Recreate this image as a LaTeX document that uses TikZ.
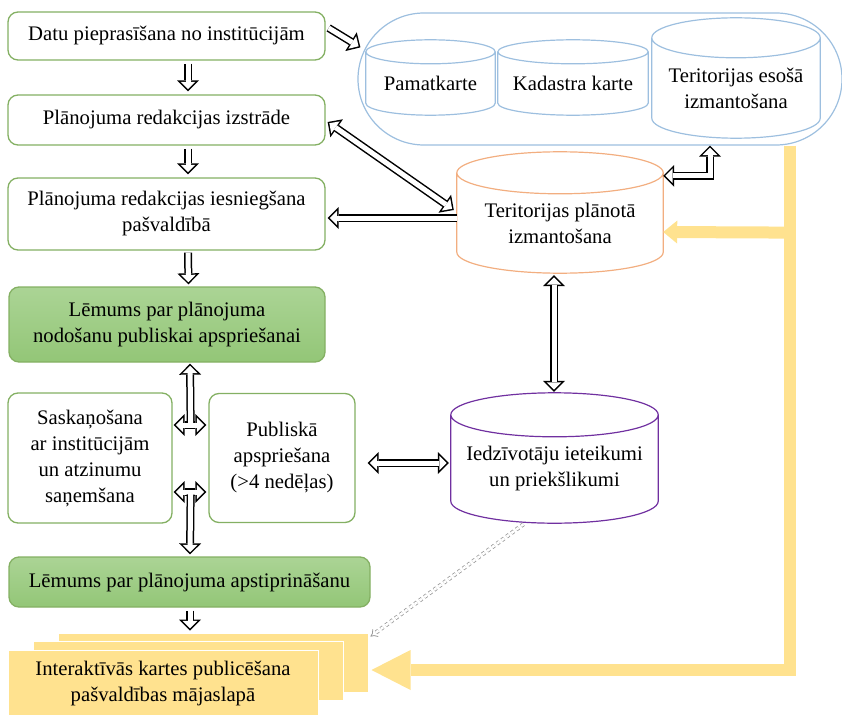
\documentclass[tikz,border=0pt]{standalone}
\usepackage{fontspec}
\setmainfont{Liberation Serif}
\usetikzlibrary{arrows.meta,calc}

\definecolor{boxgreen}{HTML}{84B063}
\definecolor{filltop}{HTML}{ABD495}
\definecolor{fillbot}{HTML}{93C677}
\definecolor{mapblue}{HTML}{9DBFDF}
\definecolor{planorange}{HTML}{F2AE80}
\definecolor{residpurple}{HTML}{7030A0}
\definecolor{docyellow}{HTML}{FFE28F}

% cylinder outline round a named node (node = from cap centre to bottom)
\newcommand{\drawcyl}[3]{%
  \draw[#3, line width=1.2pt] let \p1=(#1.north west), \p2=(#1.south east), \n1={(\x2-\x1)/2} in
    (#1.north) ellipse[x radius=\n1, y radius=#2pt]
    (\p1) -- (\x1,\y2+#2pt) arc[start angle=180, end angle=360, x radius=\n1, y radius=#2pt] -- (\x2,\y1);
}

\tikzset{
  otip/.tip={Triangle[length=11pt,width=22pt,line width=0pt]},
  itip/.tip={Triangle[length=7.4pt,width=14.8pt,line width=0pt]},
  box/.style={draw=boxgreen, line width=1.3pt, rounded corners=10pt, fill=white,
    align=center, inner sep=0pt},
  decision/.style={box, top color=filltop, bottom color=fillbot},
  store/.style={align=center, inner sep=0pt},
  sheet/.style={fill=docyellow, draw=white, line width=1pt, inner sep=0pt,
    minimum width=310pt, align=center},
  blk/.style={white, line width=5pt, -{itip}, shorten >=2.12pt,
    preaction={draw=black, line width=8pt, -{otip}, shorten >=0pt}},
  blkd/.style={white, line width=5pt, {itip}-{itip}, shorten >=2.12pt, shorten <=2.12pt,
    preaction={draw=black, line width=8pt, {otip}-{otip}, shorten >=0pt, shorten <=0pt}},
  blkj/.style={white, line width=5pt, -{itip}, shorten >=2.12pt,
    preaction={draw=black, line width=8pt, -{otip}, shorten >=0pt, shorten <=2.5pt}},
  feed/.style={draw=docyellow, line width=12pt},
}

\begin{document}
\begin{tikzpicture}[x=1pt, y=-1pt, font=\fontsize{20.7}{26}\selectfont]

  \useasboundingbox (0,0) rectangle (842,714);

  % process boxes
  \node (b1) [box, minimum width=317pt, minimum height=48pt] at (166.5,36) {Datu pieprasīšana no institūcijām};
  \node (b2) [box, minimum width=317pt, minimum height=50pt] at (166.5,120) {Plānojuma redakcijas izstrāde};
  \node (b3) [box, minimum width=317pt, minimum height=72pt] at (166.5,214) {Plānojuma redakcijas iesniegšana\\pašvaldībā};
  \node (b4) [decision, minimum width=316pt, minimum height=75pt] at (167,324.5) {Lēmums par plānojuma\\nodošanu publiskai apspriešanai};
  \node (b5) [box, minimum width=164pt, minimum height=130pt] at (90,458) {Saskaņošana\\ar institūcijām\\un atzinumu\\saņemšana};
  \node (b6) [box, minimum width=146pt, minimum height=129pt] at (282,458) {Publiskā\\apspriešana\\(>4 nedēļas)};
  \node (b7) [decision, minimum width=361pt, minimum height=50pt] at (189.5,582) {Lēmums par plānojuma apstiprināšanu};

  % publication (stacked sheets)
  \node (docc) [sheet, minimum height=59pt] at (213,662.5) {};
  \node (docb) [sheet, minimum height=59pt] at (188,671) {};
  \node (pub) [sheet, minimum height=66pt] at (163,683) {Interaktīvās kartes publicēšana\\pašvaldības mājaslapā};

  % map data
  \node (maps) [draw=mapblue, line width=1.2pt, rounded corners=66pt, minimum width=484pt,
    minimum height=132pt] at (600,79) {};
  \node (c1) [store, minimum width=129pt, minimum height=63pt] at (430.5,83.5) {Pamatkarte};
  \node (c2) [store, minimum width=150pt, minimum height=63pt] at (573,83.5) {Kadastra karte};
  \node (c3) [store, minimum width=168pt, minimum height=100pt] at (736,88) {Teritorijas esošā\\izmantošana};
  \node (c4) [store, minimum width=206pt, minimum height=100pt] at (560,223) {Teritorijas plānotā\\izmantošana};
  \node (c5) [store, minimum width=207pt, minimum height=108pt] at (554.5,469) {Iedzīvotāju ieteikumi\\un priekšlikumi};
  \drawcyl{c1}{12}{mapblue}
  \drawcyl{c2}{12}{mapblue}
  \drawcyl{c3}{20}{mapblue}
  \drawcyl{c4}{21}{planorange}
  \drawcyl{c5}{22}{residpurple}

  % yellow feed to the web map
  \draw[feed, -{Triangle[length=39pt,width=40pt,line width=0pt]}]
    ($(maps.south)+(190,0)$) |- ($(docc.east)+(3,7.5)$);
  \draw[feed, -{Triangle[length=14pt,width=23pt,line width=0pt]}]
    ($(maps.south)+(190,87)$) -- ($(c4.east)+(0,9)$);

  % process flow
  \draw[blk] ($(b1.south)+(21.5,3)$) -- ($(b2.north)+(21.5,-3)$);
  \draw[blk] ($(b2.south)+(21.5,3)$) -- ($(b3.north)+(21.5,-3)$);
  \draw[blk] ($(b3.south)+(21.5,2)$) -- ($(b4.north)+(21.5,-2)$);
  \draw[blk] ($(b1.east)+(3,-8)$) -- ($(maps.north west)+(3,35)$);
  \draw[blkd] ($(b2.east)+(2,2)$) -- ($(c4.west)+(-3,-13)$);
  \draw[blk] ($(c4.west)+(0,-5)$) -- ($(b3.east)+(2,4)$);
  \draw[blkd] ($(c4.north east)+(0,3)$) -| ($(maps.south)+(110,0)$);
  \draw[blkd] ($(c4.south)+(-6,2)$) -- ($(c5.north)+(-0.5,-23)$);
  \draw[blkd] ($(b6.east)+(12,5)$) -- ($(c5.west)+(-2,-6)$);

  % agreement and public hearing
  \draw[blkd] ($(b5.east)+(1,-33)$) -- ($(b6.west)+(-2,-33)$);
  \draw[blkj] ($(b5.east)+(18,-33)$) -- ($(b4.south)+(23,1)$);
  \draw[blkd] ($(b5.east)+(1,34)$) -- ($(b6.west)+(-2,34)$);
  \draw[blkj] ($(b5.east)+(18,34)$) -- ($(b7.north)+(0.5,-2)$);
  \draw[blk] ($(b7.south)+(0.5,3)$) -- ($(docc.north)+(-23,-2)$);

  % residents' proposals to the web map
  \draw[gray!80, line width=0.8pt, double, double distance=2.5pt, dashed, -{Implies}]
    ($(c5.south)+(-31,1)$) -- ($(docc.north east)+(2,4)$);

\end{tikzpicture}
\end{document}
